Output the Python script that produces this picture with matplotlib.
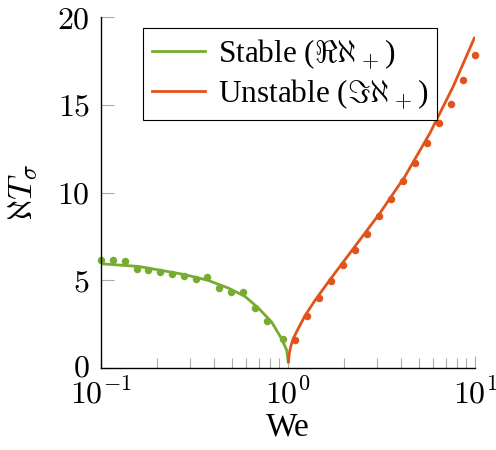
import numpy as np
import matplotlib
matplotlib.use("Agg")
import matplotlib.pyplot as plt
import matplotlib.transforms as mtransforms
from matplotlib.ticker import LogLocator, NullFormatter

plt.rcParams['mathtext.fontset'] = 'cm'
plt.rcParams['font.family'] = ['Liberation Serif', 'DejaVu Serif']

# Stable branch: fitted curve and samples
stable_line_we = [0.100, 0.158, 0.211, 0.281, 0.375, 0.479, 0.589, 0.694, 0.818, 0.925, 0.984, 1.003]
stable_line_val = [5.94, 5.79, 5.56, 5.32, 4.99, 4.56, 4.08, 3.42, 2.62, 1.66, 1.02, 0.35]
stable_pts_we = [0.100, 0.116, 0.134, 0.155, 0.179, 0.207, 0.240, 0.277, 0.321, 0.371, 0.429,
                 0.496, 0.574, 0.664, 0.768, 0.937]
stable_pts_val = [6.13, 6.13, 6.08, 5.66, 5.60, 5.47, 5.38, 5.25, 5.09, 5.19, 4.57,
                  4.34, 4.34, 3.40, 2.70, 1.66]

# Unstable branch: fitted curve and samples
unstable_line_we = [1.006, 1.015, 1.034, 1.067, 1.135, 1.233, 1.394, 1.677, 2.282, 3.105,
                    4.224, 5.746, 7.656, 9.92]
unstable_line_val = [0.35, 0.80, 1.22, 1.68, 2.25, 2.98, 3.85, 5.03, 6.93, 8.83,
                     10.92, 13.39, 16.05, 18.80]
unstable_pts_we = [1.090, 1.263, 1.464, 1.697, 1.967, 2.280, 2.643, 3.063, 3.551, 4.116,
                   4.771, 5.530, 6.410, 7.430, 8.612, 9.98]
unstable_pts_val = [1.60, 2.96, 4.00, 4.94, 5.85, 6.70, 7.64, 8.64, 9.63, 10.63,
                    11.68, 12.82, 13.96, 15.06, 16.43, 17.85]

green = '#77AC30'
orange = '#E0541C'

fig = plt.figure(figsize=(4.96, 4.5), dpi=100)
ax = fig.add_axes([0.2036, 0.1822, 0.754, 0.78])

ax.plot(stable_line_we, stable_line_val, color=green, lw=2.0, label=r'Stable ($\Re\aleph_+$)')
ax.plot(unstable_line_we, unstable_line_val, color=orange, lw=2.0, label=r'Unstable ($\Im\aleph_+$)')
ax.plot(stable_pts_we, stable_pts_val, 'o', color=green, ms=5.4, mec='none', clip_on=False)
ax.plot(unstable_pts_we, unstable_pts_val, 'o', color=orange, ms=5.4, mec='none', clip_on=False)

ax.set_xscale('log')
ax.set_xlim(0.1, 10)
ax.set_ylim(0, 20)
ax.set_yticks([0, 5, 10, 15, 20])
ax.set_xticks([0.1, 1, 10])
ax.set_xticklabels([r'$10^{-1}$', r'$10^{0}$', r'$10^{1}$'])
ax.set_yticklabels([r'$0$', r'$5$', r'$10$', r'$15$', r'$20$'])
ax.xaxis.set_minor_locator(LogLocator(base=10, subs=np.arange(2, 10)))
ax.xaxis.set_minor_formatter(NullFormatter())

for s in ['top', 'right']:
    ax.spines[s].set_visible(False)
for s in ['left', 'bottom']:
    ax.spines[s].set_linewidth(1.0)

ax.tick_params(which='major', direction='in', length=9, width=0.8, color='#aaaaaa',
               labelsize=23)
ax.tick_params(axis='x', which='major', pad=8)
ax.tick_params(axis='y', which='major', pad=8)
ax.tick_params(which='minor', direction='in', length=7, width=0.8, color='#aaaaaa')

# nudge the "0" label up slightly so it does not collide with 10^-1
lbl0 = ax.get_yticklabels()[0]
lbl0.set_transform(lbl0.get_transform() + mtransforms.ScaledTranslation(0, 2 / 72, fig.dpi_scale_trans))

ax.set_xlabel('We', fontsize=24, labelpad=1)
ax.set_ylabel(r'$\aleph T_\sigma$', fontsize=25, labelpad=12)

leg = ax.legend(loc='upper left', bbox_to_anchor=(0.112, 0.97), fontsize=22.5,
                frameon=True, fancybox=False, edgecolor='black', framealpha=1,
                handlelength=1.7, handletextpad=0.4, borderpad=0.3, labelspacing=0.2,
                borderaxespad=0)
leg.get_frame().set_linewidth(0.8)

fig.savefig('out.png', dpi=100)
